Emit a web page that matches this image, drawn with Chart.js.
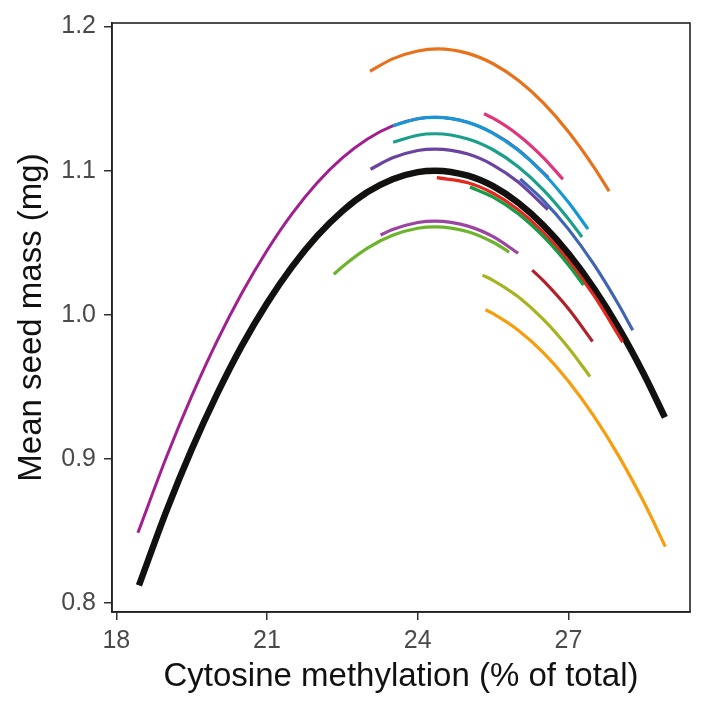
<!DOCTYPE html>
<html>
<head>
<meta charset="utf-8">
<script src="https://cdn.jsdelivr.net/npm/chart.js@4/dist/chart.umd.min.js"></script>
<style>
  html, body { margin: 0; padding: 0; background: #ffffff; }
  #wrap { width: 708px; height: 708px; }
</style>
</head>
<body>
<div id="wrap"><canvas id="c" width="708" height="708"></canvas></div>
<script>
// ---- Data ----
const xTicks = [18, 21, 24, 27];
const yTicks = [0.8, 0.9, 1.0, 1.1, 1.2];
const xTitle = "Cytosine methylation (% of total)";
const yTitle = "Mean seed mass (mg)";

// overall (black, thick)
const overallX = [18.45, 19, 19.5, 20, 20.5, 21, 21.5, 22, 22.5, 23, 23.5, 24, 24.35, 25, 25.5, 26, 26.5, 27, 27.5, 28, 28.5, 28.92];
const overallY = [0.8120, 0.8640, 0.9065, 0.9445, 0.9785, 1.0080, 1.0334, 1.0547, 1.0719, 1.0851, 1.0941, 1.0990, 1.1000, 1.0965, 1.0892, 1.0777, 1.0621, 1.0424, 1.0186, 0.9908, 0.9588, 0.9287];

// magenta (long)
const magentaX = [18.43, 19, 19.5, 20, 20.5, 21, 21.5, 22, 22.5, 23, 23.5, 24, 24.35, 25, 25.5, 26, 26.6];
const magentaY = [0.8486, 0.9014, 0.9434, 0.9813, 1.0150, 1.0446, 1.0702, 1.0916, 1.1088, 1.1220, 1.1311, 1.1360, 1.1370, 1.1335, 1.1261, 1.1146, 1.0953];

const cyanX = [23.51, 24, 24.35, 25, 25.5, 26, 26.5, 27, 27.39];
const cyanY = [1.1311, 1.1360, 1.1370, 1.1335, 1.1259, 1.1141, 1.0982, 1.0780, 1.0594];

const orangeX = [23.05, 23.5, 24, 24.4, 25, 25.5, 26, 26.5, 27, 27.5, 27.81];
const orangeY = [1.1690, 1.1776, 1.1831, 1.1845, 1.1814, 1.1742, 1.1627, 1.1470, 1.1270, 1.1028, 1.0857];

const pinkX = [25.32, 25.5, 26, 26.5, 26.89];
const pinkY = [1.1395, 1.1364, 1.1248, 1.1091, 1.0940];

const tealX = [23.51, 24, 24.35, 25, 25.5, 26, 26.5, 27, 27.27];
const tealY = [1.1197, 1.1246, 1.1256, 1.1220, 1.1145, 1.1027, 1.0867, 1.0665, 1.0539];

const purpleX = [23.06, 23.5, 24, 24.35, 25, 25.5, 26, 26.59];
const purpleY = [1.1010, 1.1089, 1.1140, 1.1150, 1.1115, 1.1039, 1.0921, 1.0729];

const blueX = [26.04, 26.5, 27, 27.5, 28, 28.28];
const blueY = [1.0942, 1.0794, 1.0594, 1.0352, 1.0069, 0.9892];

const redX = [24.38, 25, 25.5, 26, 26.5, 27, 27.5, 28.08];
const redY = [1.0951, 1.0916, 1.0843, 1.0728, 1.0572, 1.0375, 1.0137, 0.9810];

const greenX = [25.04, 25.5, 26, 26.5, 27, 27.30];
const greenY = [1.0887, 1.0816, 1.0701, 1.0543, 1.0345, 1.0206];

const orchidX = [23.26, 23.5, 24, 24.35, 25, 25.5, 26.0];
const orchidY = [1.0553, 1.0591, 1.0640, 1.0650, 1.0615, 1.0542, 1.0427];

const limeX = [22.33, 22.5, 23, 23.5, 24, 24.35, 25, 25.5, 25.82];
const limeY = [1.0280, 1.0333, 1.0462, 1.0551, 1.0600, 1.0610, 1.0576, 1.0503, 1.0435];

const darkRedX = [26.28, 26.5, 27, 27.48];
const darkRedY = [1.0309, 1.0236, 1.0041, 0.9814];

const oliveX = [25.29, 25.5, 26, 26.5, 27, 27.43];
const oliveY = [1.0275, 1.0239, 1.0124, 0.9968, 0.9771, 0.9570];

const amberX = [25.35, 25.5, 26, 26.5, 27, 27.5, 28, 28.5, 28.93];
const amberY = [1.0034, 1.0007, 0.9892, 0.9736, 0.9538, 0.9299, 0.9020, 0.8699, 0.8390];

// ---- Build chart ----
function pts(xs, ys) { return xs.map((x, i) => ({ x: x, y: ys[i] })); }
function ds(xs, ys, color, width, order) {
  return {
    data: pts(xs, ys),
    borderColor: color,
    borderWidth: width,
    pointRadius: 0,
    pointHoverRadius: 0,
    fill: false,
    cubicInterpolationMode: 'monotone',
    borderCapStyle: 'butt',
    order: order
  };
}

const frame = {
  id: 'frame',
  afterDraw(chart) {
    const a = chart.chartArea, ctx = chart.ctx;
    ctx.save();
    ctx.strokeStyle = '#222222';
    ctx.lineWidth = 1.6;
    ctx.strokeRect(a.left, a.top, a.right - a.left, a.bottom - a.top);
    ctx.restore();
  }
};

Chart.defaults.font.family = "'Liberation Sans', Arial, Helvetica, sans-serif";

new Chart(document.getElementById('c'), {
  type: 'line',
  data: {
    datasets: [
      ds(overallX, overallY, '#121110', 6.5, 20),
      ds(magentaX, magentaY, '#a11f8f', 3, 15),
      ds(cyanX, cyanY, '#1698d5', 3.2, 10),
      ds(orangeX, orangeY, '#e8721c', 3.2, 10),
      ds(pinkX, pinkY, '#e1357b', 3.2, 10),
      ds(tealX, tealY, '#1a9f8b', 3.2, 10),
      ds(purpleX, purpleY, '#6a43a0', 3.2, 10),
      ds(blueX, blueY, '#3f63b5', 3.2, 9),
      ds(redX, redY, '#e3281d', 3.2, 10),
      ds(greenX, greenY, '#179b46', 3.2, 9),
      ds(orchidX, orchidY, '#9d44a2', 3.2, 10),
      ds(limeX, limeY, '#6db42d', 3.2, 9),
      ds(darkRedX, darkRedY, '#b1212b', 3.2, 10),
      ds(oliveX, oliveY, '#a7b421', 3.2, 10),
      ds(amberX, amberY, '#f79d0e', 3.2, 10)
    ]
  },
  options: {
    responsive: false,
    animation: false,
    events: [],
    layout: { padding: { top: 17, right: 18, left: 0, bottom: 0 } },
    plugins: { legend: { display: false }, tooltip: { enabled: false } },
    scales: {
      x: {
        type: 'linear',
        min: 17.914,
        max: 29.42,
        afterBuildTicks: (s) => { s.ticks = xTicks.map(v => ({ value: v })); },
        afterFit: (s) => { s.height = 96; },
        grid: { drawOnChartArea: false, drawTicks: true, tickLength: 8, color: '#333333', lineWidth: 1.5 },
        border: { display: true, color: '#222222', width: 1.6 },
        ticks: { color: '#4a4a4a', font: { size: 25 }, padding: 6, maxRotation: 0, callback: (v) => String(v) },
        title: { display: true, text: xTitle, color: '#111111', font: { size: 33 }, padding: { top: 0, bottom: 11 } }
      },
      y: {
        type: 'linear',
        min: 0.7936,
        max: 1.2025,
        afterBuildTicks: (s) => { s.ticks = yTicks.map(v => ({ value: v })); },
        afterFit: (s) => { s.width = 112; },
        grid: { drawOnChartArea: false, drawTicks: true, tickLength: 8, color: '#333333', lineWidth: 1.5 },
        border: { display: true, color: '#222222', width: 1.6 },
        ticks: { color: '#4a4a4a', font: { size: 25 }, padding: 8, callback: (v) => Number(v).toFixed(1) },
        title: { display: true, text: yTitle, color: '#111111', font: { size: 33 }, padding: { top: 12, bottom: 0 } }
      }
    }
  },
  plugins: [frame]
});
</script>
</body>
</html>
